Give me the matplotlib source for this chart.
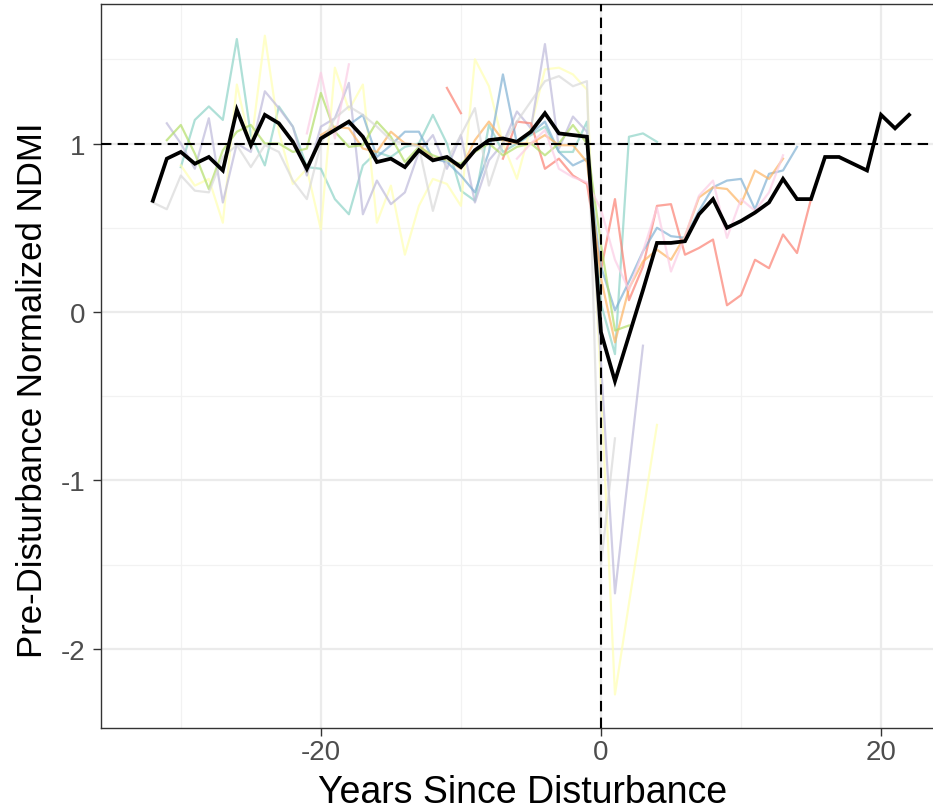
import numpy as np
import matplotlib
matplotlib.use('Agg')
import matplotlib.pyplot as plt

plt.rcParams['font.family'] = ['Liberation Sans', 'DejaVu Sans']
plt.rcParams['axes.unicode_minus'] = False

nan = np.nan

# individual disturbance series: (first year, values), Set3 colours
teal_start = -30
teal = [0.86, 1.14, 1.22, 1.14, 1.62, 1.05, 0.87, 1.22, 1.10, 0.86, 0.85, 0.67, 0.58, 0.87,
        0.95, 0.92, 0.98, 1.00, 1.17, 1.00, 0.72, 0.66, 1.11, 0.95, 1.00, 1.05, 1.10, 0.95,
        0.95, 1.13, 0.05, -0.25, 1.04, 1.06, 1.01]

yellow_start = -30
yellow = [0.87, 0.75, 0.79, 0.53, 1.35, 0.98, 1.64, 1.07, 0.76, 0.85, 0.49, 1.45, 1.20, 1.35,
          0.53, 0.75, 0.34, 0.63, 0.79, 0.76, 0.63, 1.50, 1.34, 1.00, 0.79, 1.10, 1.44, 1.45,
          1.41, 1.32, -0.45, -2.27, -1.73, -1.20, -0.67]

lavender_start = -31
lavender = [1.12, 1.00, 0.85, 1.15, 0.65, 1.00, 0.95, 1.31, 1.21, 1.10, 0.81, 1.10, 1.15, 1.36,
            0.58, 0.78, 0.64, 0.71, 0.95, 1.05, 0.85, 1.05, 0.65, 0.90, 1.00, 1.19, 1.09, 1.59,
            0.97, 1.16, 1.07, -0.30, -1.67, -0.93, -0.20]

salmon_start = -11
salmon = [1.33, 1.18, nan, nan, 0.91, 1.13, 1.12, 0.85, 0.91, 0.81, 0.76, 0.25, 0.67, 0.07,
          0.27, 0.63, 0.64, 0.34, 0.38, 0.43, 0.04, 0.10, 0.31, 0.26, 0.46, 0.35, 0.67]

blue_start = -18
blue = [1.11, 1.17, 0.92, 0.99, 1.07, 1.07, 0.91, 0.89, 0.81, 0.71, 0.95, 1.41, 1.00, 1.06,
        1.13, 0.95, 0.87, 0.91, 0.27, 0.01, 0.18, 0.36, 0.50, 0.45, 0.44, 0.60, 0.74, 0.78,
        0.79, 0.61, 0.82, 0.84, 0.98]

orange_start = -20
orange = [1.05, 1.10, 1.09, 0.97, 0.95, 1.07, 1.00, 0.99, 0.91, 0.91, 0.85, 1.02, 1.13, 1.02,
          1.00, 1.00, 1.05, 0.99, 0.99, 0.89, 0.20, -0.18, 0.14, 0.30, 0.37, 0.31, 0.45, 0.68,
          0.74, 0.73, 0.64, 0.84, 0.79, 0.91]

green_start = -31
green = [1.02, 1.11, 0.94, 0.73, 0.96, 1.07, 1.11, 1.00, 1.00, 0.95, 0.97, 1.30, 1.07, 0.98,
         0.99, 1.13, 1.04, 0.89, 0.98, 0.93, 0.90, 0.88, 0.95, 1.00, 0.93, 0.98, 1.00, 0.93,
         1.00, 1.11, 1.00, 0.40, -0.11, -0.08]

pink_start = -21
pink = [1.06, 1.42, 1.03, 1.47, nan, nan, nan, nan, nan, nan, nan, nan, nan, nan, nan,
        0.91, 1.00, 1.08, 0.85, 0.80, 0.77, 0.61, 0.31, 0.13, 0.36, 0.62, 0.24, 0.45, 0.69,
        0.78, 0.44, 0.67, 0.60, 0.71, 0.93]

grey_start = -32
grey = [0.65, 0.61, 0.81, 0.72, 0.71, 0.92, 0.99, 0.86, 0.99, 0.95, 0.78, 0.67, 1.00, 1.15,
        1.22, 1.17, 1.10, 1.02, 1.00, 0.98, 0.60, 0.90, 1.05, 1.21, 0.75, 1.00, 1.13, 1.25,
        1.37, 1.40, 1.34, 1.37, -1.50, -0.75]

# mean across disturbances
mean_start = -32
mean_ndmi = [0.66, 0.91, 0.95, 0.88, 0.92, 0.84, 1.20, 0.99, 1.17, 1.12, 1.01, 0.85, 1.03,
             1.08, 1.13, 1.04, 0.89, 0.91, 0.86, 0.96, 0.90, 0.92, 0.86, 0.96, 1.02, 1.03,
             1.01, 1.07, 1.18, 1.06, 1.05, 1.04, -0.12, -0.41, -0.14, 0.13, 0.41, 0.41, 0.42,
             0.58, 0.67, 0.50, 0.54, 0.59, 0.65, 0.79, 0.67, 0.67, 0.92, 0.92, 0.88, 0.84,
             1.17, 1.09, 1.17]

series = [(teal_start, teal, '#8DD3C7'), (yellow_start, yellow, '#FFFFB3'),
          (lavender_start, lavender, '#BEBADA'), (salmon_start, salmon, '#FB8072'),
          (blue_start, blue, '#80B1D3'), (orange_start, orange, '#FDB462'),
          (green_start, green, '#B3DE69'), (pink_start, pink, '#FCCDE5'),
          (grey_start, grey, '#D9D9D9')]

fig = plt.figure(figsize=(9.33, 8.12), dpi=100)
ax = fig.add_axes([101/933, 1 - 729/812, 1 - 101/933, (729 - 5)/812])

for start, vals, col in series:
    yrs = np.arange(start, start + len(vals))
    ax.plot(yrs, vals, color=col, alpha=0.7, lw=1.6, zorder=2)

ax.axhline(1, color='black', lw=1.5, dashes=(5, 3), zorder=3)
ax.axvline(0, color='black', lw=1.5, dashes=(5, 3), zorder=3)

yrs = np.arange(mean_start, mean_start + len(mean_ndmi))
ax.plot(yrs, mean_ndmi, color='black', lw=2.7, zorder=4, solid_joinstyle='miter')

ax.set_xlim(-35.7, 23.71)
ax.set_ylim(-2.469, 1.828)
ax.set_xticks([-20, 0, 20])
ax.set_xticks([-30, -10, 10], minor=True)
ax.set_yticks([-2, -1, 0, 1])
ax.set_yticks([-1.5, -0.5, 0.5, 1.5], minor=True)
ax.grid(which='major', color='#EBEBEB', lw=1.6, zorder=0)
ax.grid(which='minor', color='#F2F2F2', lw=0.9, zorder=0)
ax.set_axisbelow(True)

ax.tick_params(which='major', length=6, width=1.0, color='#333333',
               labelsize=20, labelcolor='#4D4D4D')
ax.tick_params(axis='x', which='major', pad=2)
ax.tick_params(axis='y', which='major', pad=5)
ax.tick_params(which='minor', length=0)
for name, sp in ax.spines.items():
    sp.set_color('#333333')
    sp.set_linewidth(1.0)
ax.spines['right'].set_visible(False)

ax.set_xlabel('Years Since Disturbance', fontsize=27)
ax.set_ylabel('Pre-Disturbance Normalized NDMI', fontsize=25)
ax.xaxis.set_label_coords(0.507, -0.063)
ax.yaxis.set_label_coords(-0.062, 0.468)

fig.savefig('out.png', dpi=100)
